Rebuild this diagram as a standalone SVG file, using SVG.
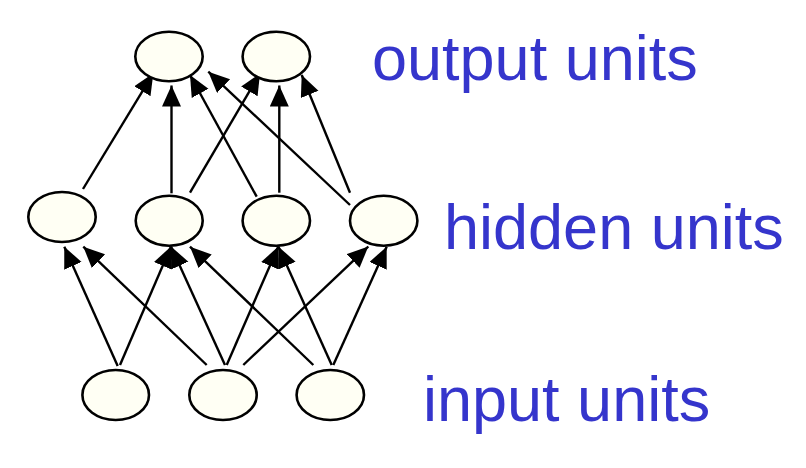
<svg xmlns="http://www.w3.org/2000/svg" width="806" height="468" viewBox="0 0 806 468">
<style>
.node{fill:#fffff4;stroke:#000;stroke-width:2.6}
.edge{stroke:#000;stroke-width:2.4;fill:none;marker-end:url(#arr)}
.lbl{font-family:"Liberation Sans",Arial,sans-serif;font-size:63px;fill:#3535cc}
</style>
<defs>
<marker id="arr" markerUnits="userSpaceOnUse" markerWidth="22" markerHeight="20" refX="21" refY="9.5" orient="auto">
<path d="M0,0 L21,9.5 L0,19 z" fill="#000"/>
</marker>
</defs>
<rect width="806" height="468" fill="#fff"/>
<g id="connectors">
<line class="edge" x1="117.7" y1="366" x2="64.3" y2="246.7"/>
<line class="edge" x1="120" y1="365" x2="171" y2="246.5"/>
<line class="edge" x1="206.7" y1="365" x2="83.3" y2="246.7"/>
<line class="edge" x1="225" y1="365" x2="171" y2="246.5"/>
<line class="edge" x1="226.7" y1="365" x2="278.3" y2="246.5"/>
<line class="edge" x1="243.3" y1="365" x2="368.3" y2="246.5"/>
<line class="edge" x1="313.3" y1="365" x2="190" y2="246.7"/>
<line class="edge" x1="331.7" y1="365" x2="278.3" y2="246.5"/>
<line class="edge" x1="333.3" y1="365" x2="386.7" y2="246.7"/>
<line class="edge" x1="83" y1="189" x2="153.3" y2="73.3"/>
<line class="edge" x1="171.5" y1="193.3" x2="171.5" y2="85.5"/>
<line class="edge" x1="190" y1="192.7" x2="260" y2="73.3"/>
<line class="edge" x1="256.7" y1="196.7" x2="190" y2="75"/>
<line class="edge" x1="279.3" y1="192.7" x2="279.3" y2="85.5"/>
<line class="edge" x1="350" y1="205" x2="208.3" y2="71.7"/>
<line class="edge" x1="350" y1="192.7" x2="301.7" y2="75"/>
</g>
<g id="out1"><ellipse class="node" cx="169" cy="56.5" rx="33.7" ry="24.8"/></g>
<g id="out2"><ellipse class="node" cx="276.3" cy="56.5" rx="33.7" ry="24.8"/></g>
<g id="hid1"><ellipse class="node" cx="62" cy="217" rx="33.7" ry="25"/></g>
<g id="hid2"><ellipse class="node" cx="169.2" cy="220.7" rx="33.5" ry="25"/></g>
<g id="hid3"><ellipse class="node" cx="276.3" cy="220.7" rx="33.7" ry="25"/></g>
<g id="hid4"><ellipse class="node" cx="383.7" cy="220.7" rx="33.7" ry="25"/></g>
<g id="in1"><ellipse class="node" cx="115.7" cy="395" rx="33.3" ry="25"/></g>
<g id="in2"><ellipse class="node" cx="223" cy="395" rx="33.7" ry="25"/></g>
<g id="in3"><ellipse class="node" cx="330.3" cy="395" rx="33.7" ry="25"/></g>
<g id="labels">
<text class="lbl" x="372" y="80">output units</text>
<text class="lbl" x="444" y="249">hidden units</text>
<text class="lbl" x="423" y="421">input units</text>
</g>
</svg>
